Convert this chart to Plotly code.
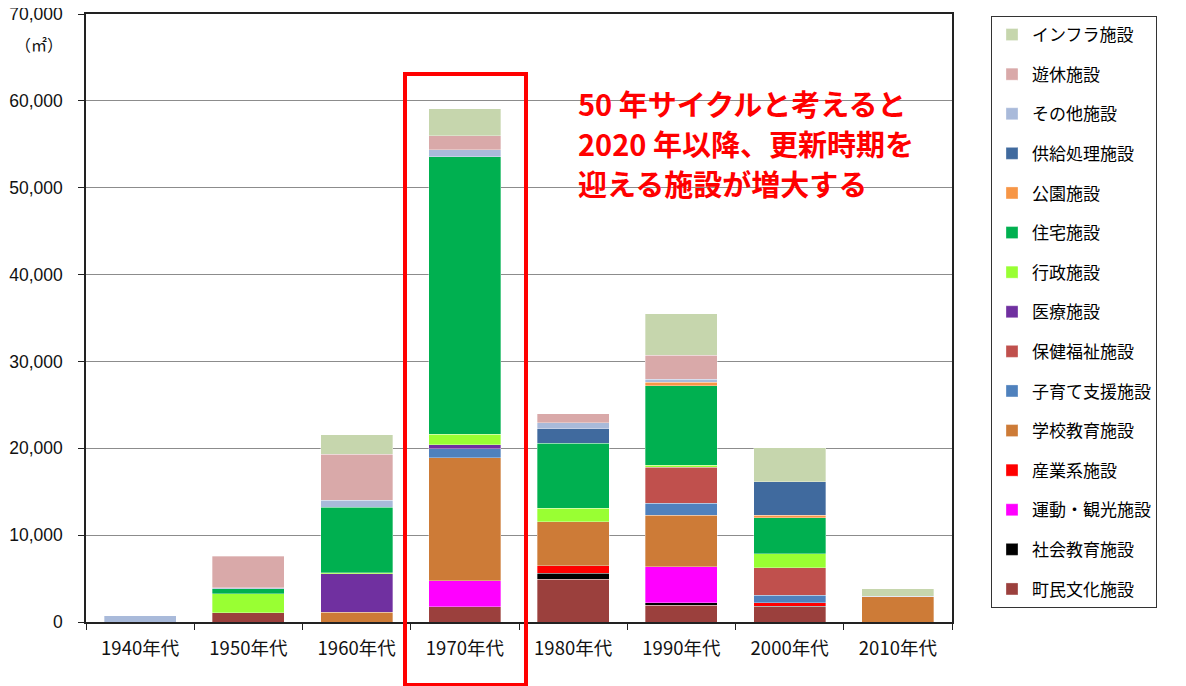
import plotly.graph_objects as go

decades = ["1940年代", "1950年代", "1960年代", "1970年代", "1980年代", "1990年代", "2000年代", "2010年代"]

# stacking order: bottom -> top
series_names = ["町民文化施設", "社会教育施設", "運動・観光施設", "産業系施設", "学校教育施設",
                "子育て支援施設", "保健福祉施設", "医療施設", "行政施設", "住宅施設",
                "公園施設", "供給処理施設", "その他施設", "遊休施設", "インフラ施設"]

chomin_bunka = [0, 1050, 0, 1730, 4920, 1920, 1730, 0]
shakai_kyoiku = [0, 0, 0, 0, 690, 310, 100, 0]
undo_kanko = [0, 0, 0, 3040, 0, 4120, 0, 0]
sangyo = [0, 0, 0, 0, 850, 0, 400, 0]
gakko_kyoiku = [0, 0, 1120, 14150, 5080, 5920, 0, 2880]
kosodate = [0, 0, 0, 1000, 0, 1390, 850, 0]
hoken_fukushi = [0, 0, 0, 0, 0, 4150, 3150, 0]
iryo = [0, 0, 4420, 460, 0, 0, 0, 0]
gyosei = [0, 2230, 150, 1230, 1540, 230, 1650, 0]
jutaku = [0, 540, 7540, 31940, 7500, 9160, 4120, 0]
koen = [0, 0, 0, 0, 0, 380, 270, 0]
kyokyu_shori = [0, 0, 0, 0, 1650, 0, 3890, 0]
sonota = [700, 100, 810, 810, 690, 380, 0, 80]
yukyu = [0, 3650, 5270, 1650, 1080, 2760, 0, 0]
infra = [0, 0, 2230, 3070, 0, 4760, 3920, 850]

series_values = [chomin_bunka, shakai_kyoiku, undo_kanko, sangyo, gakko_kyoiku, kosodate,
                 hoken_fukushi, iryo, gyosei, jutaku, koen, kyokyu_shori, sonota, yukyu, infra]

series_colors = ["#9B403D", "#000000", "#FF00FF", "#FF0000", "#CD7B37", "#4F81BD", "#C0504D",
                 "#7030A0", "#99FF33", "#00B050", "#F79646", "#406A9E", "#A9BADA", "#D9A9A9", "#C6D6AD"]

y_ticks = [0, 10000, 20000, 30000, 40000, 50000, 60000, 70000]

annotation_lines = ["50 年サイクルと考えると", "2020 年以降、更新時期を", "迎える施設が増大する"]

# the page body adds an 8px margin; work in screen pixels and shift
OFF = 8
W, H = 1186 - OFF, 686 - OFF
L, R, T, B = 86 - OFF, 952 - OFF, 14 - OFF, 622 - OFF  # plot area in figure pixels


def px_x(p):
    return (p - OFF - L) / (R - L)


def px_y(p):
    return (B - (p - OFF)) / (B - T)


fig = go.Figure()
n = len(series_names)
for i, (name, vals, col) in enumerate(zip(series_names, series_values, series_colors)):
    fig.add_trace(go.Bar(
        x=decades,
        y=[v if v else None for v in vals],
        name=name,
        legendgroup=name,
        legendrank=n - i,
        marker=dict(color=col, line=dict(color="rgba(255,255,255,0.55)", width=0.6)),
    ))

fig.update_layout(
    width=W, height=H,
    barmode="stack",
    bargap=0.333,
    plot_bgcolor="white",
    paper_bgcolor="white",
    margin=dict(l=L, r=W - R, t=T, b=H - B, autoexpand=False),
    font=dict(family="Noto Sans CJK JP", color="#000000"),
    legend=dict(
        x=px_x(991), xanchor="left",
        y=px_y(16), yanchor="top",
        traceorder="grouped",
        tracegroupgap=14.5,
        bordercolor="#333333", borderwidth=1,
        font=dict(size=17, family="Noto Sans CJK JP", color="#000000"),
        entrywidth=210,
        itemwidth=30,
        bgcolor="white",
    ),
    showlegend=True,
)

fig.update_xaxes(
    type="category",
    showline=True, linecolor="#222222", linewidth=1.5, mirror=True,
    ticks="outside", tickson="boundaries", ticklen=6, tickcolor="#222222",
    tickfont=dict(size=18.5, family="Noto Sans CJK JP", color="#111111"),
    ticklabelstandoff=9,
    showgrid=False,
)
fig.update_yaxes(
    range=[0, 70000],
    tickvals=y_ticks,
    tickformat=",",
    showline=True, linecolor="#222222", linewidth=1.5, mirror=True,
    ticks="outside", ticklen=6, tickcolor="#222222",
    tickfont=dict(size=17.5, family="Liberation Sans", color="#111111"),
    ticklabelstandoff=12,
    ticklabeloverflow="allow",
    showgrid=True, gridcolor="#8C8C8C", gridwidth=1,
    zeroline=False,
)

# unit label
fig.add_annotation(
    text="（㎡）", xref="paper", yref="paper",
    x=px_x(39), y=px_y(44), xanchor="center", yanchor="middle",
    showarrow=False, font=dict(size=16, family="Noto Sans CJK JP", color="#111111"),
)

# red callout text
for i, line in enumerate(annotation_lines):
    fig.add_annotation(
        text="<b>" + line + "</b>", xref="paper", yref="paper",
        x=px_x(576), y=px_y(103 + 40 * i), xanchor="left", yanchor="middle",
        showarrow=False, font=dict(size=29, family="Noto Sans CJK JP", color="#FF0000"),
    )

# red highlight rectangle around 1970s
fig.add_shape(
    type="rect", xref="paper", yref="paper",
    x0=px_x(405), x1=px_x(526), y0=px_y(685), y1=px_y(74),
    line=dict(color="#FF0000", width=4), fillcolor="rgba(0,0,0,0)",
    layer="above",
)

fig.write_html("out.html")
